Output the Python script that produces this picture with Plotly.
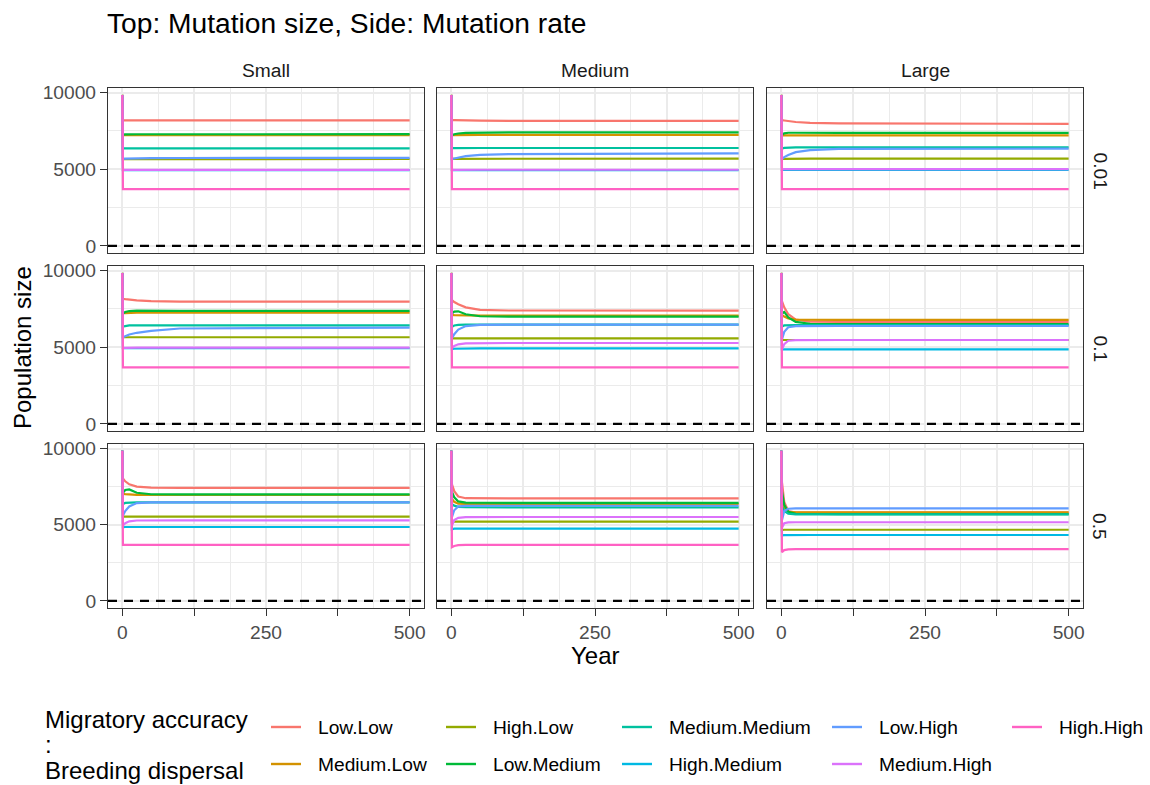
import plotly.graph_objects as go

# ---- data -------------------------------------------------------------
YEARS = [0, 1, 5, 12, 25, 50, 100, 500]

SERIES = ["Low.Low", "Medium.Low", "High.Low", "Low.Medium", "Medium.Medium",
          "High.Medium", "Low.High", "Medium.High", "High.High"]
COLORS = ["#F8766D", "#D39200", "#93AA00", "#00BA38", "#00C19F",
          "#00B9E3", "#619CFF", "#DB72FB", "#FF61C3"]

SIZES = ["Small", "Medium", "Large"]      # mutation size (columns)
RATES = ["0.01", "0.1", "0.5"]            # mutation rate (rows)

X_TICKS = [0, 125, 250, 375, 500]
X_TICKTEXT = ["0", "", "250", "", "500"]
X_MINOR = [62.5, 187.5, 312.5, 437.5]
Y_TICKS = [0, 5000, 10000]
Y_TICKTEXT = ["0", "5000", "10000"]
Y_MINOR = [2500, 7500]

# population size trajectories, one dict per (rate, size) panel
pop_r001_small = {
    "Low.Low":       [9850, 8190, 8190, 8190, 8190, 8190, 8190, 8190],
    "Medium.Low":    [9850, 7220, 7220, 7220, 7220, 7220, 7225, 7230],
    "High.Low":      [9850, 5660, 5660, 5660, 5660, 5665, 5665, 5665],
    "Low.Medium":    [9850, 7260, 7270, 7280, 7280, 7280, 7280, 7285],
    "Medium.Medium": [9850, 6360, 6360, 6360, 6360, 6360, 6360, 6360],
    "High.Medium":   [9850, 4940, 4940, 4940, 4940, 4940, 4940, 4940],
    "Low.High":      [9850, 5680, 5690, 5700, 5710, 5720, 5730, 5740],
    "Medium.High":   [9850, 4950, 4950, 4950, 4950, 4950, 4950, 4950],
    "High.High":     [9850, 3700, 3700, 3700, 3700, 3700, 3700, 3700],
}
pop_r001_medium = {
    "Low.Low":       [9850, 8200, 8200, 8190, 8180, 8170, 8160, 8150],
    "Medium.Low":    [9850, 7220, 7225, 7230, 7235, 7235, 7235, 7235],
    "High.Low":      [9850, 5680, 5680, 5680, 5685, 5685, 5685, 5685],
    "Low.Medium":    [9850, 7220, 7280, 7330, 7370, 7390, 7400, 7400],
    "Medium.Medium": [9850, 6380, 6380, 6385, 6385, 6385, 6385, 6385],
    "High.Medium":   [9850, 4940, 4940, 4945, 4945, 4945, 4945, 4945],
    "Low.High":      [9850, 5660, 5700, 5760, 5850, 5940, 5990, 6035],
    "Medium.High":   [9850, 4950, 4955, 4960, 4965, 4965, 4965, 4965],
    "High.High":     [9850, 3705, 3705, 3705, 3705, 3705, 3705, 3705],
}
pop_r001_large = {
    "Low.Low":       [9850, 8200, 8180, 8140, 8080, 8020, 7985, 7960],
    "Medium.Low":    [9850, 7200, 7205, 7210, 7210, 7210, 7210, 7210],
    "High.Low":      [9850, 5680, 5680, 5685, 5685, 5685, 5685, 5685],
    "Low.Medium":    [9850, 7250, 7340, 7380, 7380, 7375, 7370, 7365],
    "Medium.Medium": [9850, 6350, 6390, 6410, 6420, 6425, 6425, 6425],
    "High.Medium":   [9850, 4950, 4950, 4950, 4950, 4950, 4950, 4950],
    "Low.High":      [9850, 5660, 5790, 5930, 6110, 6250, 6320, 6340],
    "Medium.High":   [9850, 4980, 5000, 5010, 5010, 5010, 5010, 5010],
    "High.High":     [9850, 3705, 3705, 3705, 3705, 3705, 3705, 3705],
}
pop_r01_small = {
    "Low.Low":       [9850, 8160, 8140, 8110, 8060, 8010, 7980, 7975],
    "Medium.Low":    [9850, 7210, 7230, 7250, 7255, 7255, 7255, 7255],
    "High.Low":      [9850, 5650, 5650, 5650, 5650, 5650, 5650, 5650],
    "Low.Medium":    [9850, 7200, 7300, 7360, 7390, 7380, 7370, 7365],
    "Medium.Medium": [9850, 6330, 6380, 6420, 6430, 6430, 6430, 6430],
    "High.Medium":   [9850, 4930, 4930, 4930, 4930, 4930, 4930, 4930],
    "Low.High":      [9850, 5650, 5720, 5830, 5940, 6070, 6220, 6280],
    "Medium.High":   [9850, 4950, 4960, 4970, 4970, 4970, 4970, 4970],
    "High.High":     [9850, 3685, 3685, 3685, 3685, 3685, 3685, 3685],
}
pop_r01_medium = {
    "Low.Low":       [9850, 8080, 7950, 7800, 7600, 7440, 7395, 7385],
    "Medium.Low":    [9850, 7110, 7100, 7090, 7070, 7060, 7060, 7060],
    "High.Low":      [9850, 5580, 5580, 5580, 5580, 5580, 5580, 5580],
    "Low.Medium":    [9850, 7200, 7320, 7340, 7150, 7020, 6995, 6995],
    "Medium.Medium": [9850, 6330, 6420, 6460, 6470, 6470, 6470, 6470],
    "High.Medium":   [9850, 4880, 4900, 4910, 4920, 4920, 4920, 4920],
    "Low.High":      [9850, 5580, 5850, 6150, 6380, 6460, 6470, 6470],
    "Medium.High":   [9850, 4930, 5080, 5190, 5250, 5270, 5275, 5275],
    "High.High":     [9850, 3685, 3685, 3685, 3685, 3685, 3685, 3685],
}
pop_r01_large = {
    "Low.Low":       [9850, 8000, 7600, 7150, 6800, 6670, 6650, 6650],
    "Medium.Low":    [9850, 7100, 7000, 6870, 6800, 6785, 6780, 6780],
    "High.Low":      [9850, 5470, 5470, 5470, 5470, 5470, 5470, 5470],
    "Low.Medium":    [9850, 7200, 7300, 6950, 6650, 6530, 6500, 6500],
    "Medium.Medium": [9850, 6350, 6420, 6440, 6440, 6440, 6440, 6440],
    "High.Medium":   [9850, 4860, 4860, 4860, 4860, 4860, 4860, 4860],
    "Low.High":      [9850, 5500, 6000, 6300, 6380, 6385, 6385, 6385],
    "Medium.High":   [9850, 4850, 5200, 5420, 5465, 5470, 5470, 5470],
    "High.High":     [9850, 3685, 3685, 3685, 3685, 3685, 3685, 3685],
}
pop_r05_small = {
    "Low.Low":       [9850, 8040, 7850, 7650, 7500, 7430, 7425, 7425],
    "Medium.Low":    [9850, 7030, 7010, 6980, 6960, 6950, 6950, 6950],
    "High.Low":      [9850, 5525, 5525, 5525, 5525, 5525, 5525, 5525],
    "Low.Medium":    [9850, 7100, 7280, 7320, 7100, 7000, 6990, 6990],
    "Medium.Medium": [9850, 6360, 6430, 6460, 6470, 6470, 6470, 6470],
    "High.Medium":   [9850, 4830, 4850, 4850, 4850, 4850, 4850, 4850],
    "Low.High":      [9850, 5600, 5900, 6200, 6420, 6465, 6470, 6470],
    "Medium.High":   [9850, 4950, 5100, 5220, 5275, 5285, 5285, 5285],
    "High.High":     [9850, 3670, 3670, 3670, 3670, 3670, 3670, 3670],
}
pop_r05_medium = {
    "Low.Low":       [9850, 7650, 7200, 6850, 6740, 6730, 6730, 6730],
    "Medium.Low":    [9850, 6700, 6500, 6380, 6360, 6360, 6360, 6360],
    "High.Low":      [9850, 5180, 5200, 5200, 5200, 5200, 5200, 5200],
    "Low.Medium":    [9850, 7150, 6800, 6530, 6450, 6440, 6440, 6440],
    "Medium.Medium": [9850, 6350, 6250, 6170, 6145, 6140, 6140, 6140],
    "High.Medium":   [9850, 4700, 4740, 4740, 4740, 4740, 4740, 4740],
    "Low.High":      [9850, 5500, 5950, 6200, 6240, 6245, 6245, 6245],
    "Medium.High":   [9850, 4950, 5300, 5450, 5500, 5505, 5505, 5505],
    "High.High":     [9850, 3520, 3600, 3660, 3670, 3670, 3670, 3670],
}
pop_r05_large = {
    "Low.Low":       [9850, 7800, 6500, 5900, 5800, 5790, 5790, 5790],
    "Medium.Low":    [9850, 6600, 6100, 5850, 5810, 5810, 5810, 5810],
    "High.Low":      [9850, 4650, 4670, 4670, 4670, 4670, 4670, 4670],
    "Low.Medium":    [9850, 7200, 6300, 5850, 5720, 5700, 5700, 5700],
    "Medium.Medium": [9850, 6200, 5900, 5720, 5680, 5680, 5680, 5680],
    "High.Medium":   [9850, 4300, 4320, 4325, 4325, 4325, 4325, 4325],
    "Low.High":      [9850, 5300, 5900, 6050, 6075, 6075, 6075, 6075],
    "Medium.High":   [9850, 4800, 5100, 5150, 5160, 5160, 5160, 5160],
    "High.High":     [9850, 3200, 3330, 3380, 3390, 3390, 3390, 3390],
}

PANELS = [
    [pop_r001_small, pop_r001_medium, pop_r001_large],
    [pop_r01_small, pop_r01_medium, pop_r01_large],
    [pop_r05_small, pop_r05_medium, pop_r05_large],
]

# ---- layout geometry (pixels on a 1150 x 785 page) ----------------------
W, H = 1150, 785
COL_PX = [(108, 424), (437, 753), (767, 1083)]
ROW_PX = [(88, 253), (266, 431), (444, 608)]
X_RANGE = [-25, 525]
Y_RANGE = [-470, 10300]

FONT = "Liberation Sans, Arial, Helvetica, sans-serif"
BORDER = "#333333"
GRID = "#EBEBEB"
SMALL = 19.2
MID = 24
TICK_FONT = dict(family=FONT, size=SMALL, color="#4D4D4D")


def px_x(x):
    return x / W


def px_y(y):
    return 1 - y / H


fig = go.Figure()
layout = dict(
    width=W, height=H, autosize=False,
    margin=dict(l=0, r=0, t=0, b=0),
    paper_bgcolor="white", plot_bgcolor="white",
    showlegend=False,
    font=dict(family=FONT),
)
shapes = []
annotations = []

for r in range(3):
    for c in range(3):
        n = r * 3 + c + 1
        sfx = "" if n == 1 else str(n)
        panel = PANELS[r][c]
        for name, color in zip(SERIES, COLORS):
            fig.add_trace(go.Scatter(
                x=YEARS, y=panel[name], mode="lines", name=name,
                line=dict(color=color, width=2.2),
                xaxis="x" + sfx, yaxis="y" + sfx, showlegend=False,
            ))
        bottom = r == 2
        left = c == 0
        layout["xaxis" + sfx] = dict(
            domain=[px_x(COL_PX[c][0]), px_x(COL_PX[c][1])],
            anchor="y" + sfx, range=X_RANGE, fixedrange=True,
            tickmode="array", tickvals=X_TICKS, ticktext=X_TICKTEXT,
            showticklabels=bottom, ticks="outside" if bottom else "",
            ticklen=7, tickwidth=1.3, tickcolor=BORDER, tickfont=TICK_FONT,
            showgrid=True, gridcolor=GRID, gridwidth=1.8,
            minor=dict(tickvals=X_MINOR, showgrid=True, gridcolor=GRID,
                       gridwidth=0.9, ticks=""),
            showline=True, mirror=True, linecolor=BORDER, linewidth=1.2,
            zeroline=False, automargin=False,
        )
        layout["yaxis" + sfx] = dict(
            domain=[px_y(ROW_PX[r][1]), px_y(ROW_PX[r][0])],
            anchor="x" + sfx, range=Y_RANGE, fixedrange=True,
            tickmode="array", tickvals=Y_TICKS, ticktext=Y_TICKTEXT,
            showticklabels=left, ticks="outside" if left else "",
            ticklen=7, tickwidth=1.3, tickcolor=BORDER, tickfont=TICK_FONT,
            showgrid=True, gridcolor=GRID, gridwidth=1.8,
            minor=dict(tickvals=Y_MINOR, showgrid=True, gridcolor=GRID,
                       gridwidth=0.9, ticks=""),
            showline=True, mirror=True, linecolor=BORDER, linewidth=1.2,
            zeroline=False, automargin=False,
        )
        # dashed reference line at zero population
        shapes.append(dict(
            type="line", xref="x" + sfx + " domain", yref="y" + sfx,
            x0=0, x1=1, y0=0, y1=0,
            line=dict(color="black", width=2.2, dash="9px,7px"),
        ))

# facet strip labels
for c, label in enumerate(SIZES):
    annotations.append(dict(
        text=label, xref="paper", yref="paper",
        x=px_x((COL_PX[c][0] + COL_PX[c][1]) / 2), y=px_y(71),
        xanchor="center", yanchor="middle", showarrow=False,
        font=dict(family=FONT, size=SMALL, color="#1A1A1A"),
    ))
for r, label in enumerate(RATES):
    annotations.append(dict(
        text=label, xref="paper", yref="paper",
        x=px_x(1100), y=px_y((ROW_PX[r][0] + ROW_PX[r][1]) / 2),
        xanchor="center", yanchor="middle", showarrow=False, textangle=90,
        font=dict(family=FONT, size=SMALL, color="#1A1A1A"),
    ))

# titles
annotations.append(dict(
    text="Top: Mutation size, Side: Mutation rate", xref="paper", yref="paper",
    x=px_x(105), y=px_y(23), xanchor="left", yanchor="middle",
    showarrow=False, font=dict(family=FONT, size=28.2, color="black"),
))
annotations.append(dict(
    text="Population size", xref="paper", yref="paper",
    x=px_x(22), y=px_y(348), xanchor="center", yanchor="middle",
    textangle=-90, showarrow=False,
    font=dict(family=FONT, size=MID, color="black"),
))
annotations.append(dict(
    text="Year", xref="paper", yref="paper",
    x=px_x(595), y=px_y(655), xanchor="center", yanchor="middle",
    showarrow=False, font=dict(family=FONT, size=MID, color="black"),
))

# legend title
for text, ypos in [("Migratory accuracy", 719), (":", 744), ("Breeding dispersal", 770)]:
    annotations.append(dict(
        text=text, xref="paper", yref="paper",
        x=px_x(43), y=px_y(ypos), xanchor="left", yanchor="middle",
        showarrow=False, font=dict(family=FONT, size=MID, color="black"),
    ))

# legend keys, laid out column by column in two rows
LEGEND_TEXT_X = [316, 491, 667, 877, 1057]
LEGEND_ROW_Y = [727, 764]
for i, (name, color) in enumerate(zip(SERIES, COLORS)):
    col, row = divmod(i, 2)
    tx = LEGEND_TEXT_X[col]
    ty = LEGEND_ROW_Y[row]
    shapes.append(dict(
        type="line", xref="paper", yref="paper",
        x0=px_x(tx - 45), x1=px_x(tx - 15), y0=px_y(ty), y1=px_y(ty),
        line=dict(color=color, width=2.4),
    ))
    annotations.append(dict(
        text=name, xref="paper", yref="paper",
        x=px_x(tx), y=px_y(ty), xanchor="left", yanchor="middle",
        showarrow=False, font=dict(family=FONT, size=SMALL, color="black"),
    ))

layout["shapes"] = shapes
layout["annotations"] = annotations
fig.update_layout(**layout)
fig.write_html("out.html")
